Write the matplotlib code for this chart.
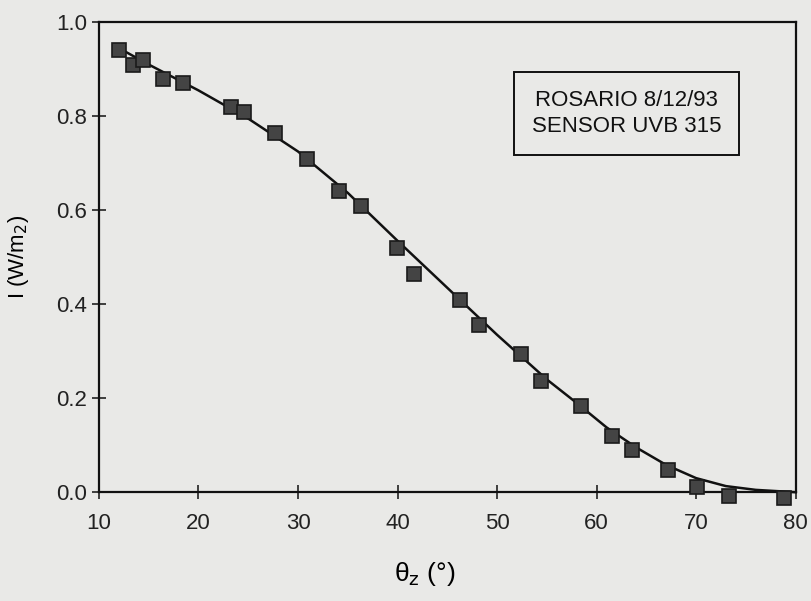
import matplotlib
matplotlib.use("Agg")
import matplotlib.pyplot as plt

# measured points (zenith angle in degrees, irradiance W/m2)
theta = [12.0, 13.4, 14.4, 16.4, 18.4, 23.3, 24.6, 27.7, 30.9, 34.1, 36.3, 39.9,
         41.7, 46.3, 48.2, 52.4, 54.4, 58.4, 61.6, 63.6, 67.2, 70.1, 73.3, 78.8]
irr = [0.94, 0.91, 0.92, 0.88, 0.87, 0.82, 0.81, 0.765, 0.71, 0.64, 0.61, 0.52,
       0.465, 0.41, 0.356, 0.294, 0.236, 0.184, 0.12, 0.089, 0.048, 0.011, -0.008, -0.012]

# fitted curve
fit_theta = [12, 15, 20, 25, 30, 35, 40, 45, 50, 55, 58, 61, 64, 67, 70, 73, 76, 80]
fit_irr = [0.945, 0.91, 0.855, 0.795, 0.725, 0.637, 0.535, 0.435, 0.335, 0.24,
           0.19, 0.138, 0.095, 0.058, 0.03, 0.013, 0.005, 0.0]

xticks = [10, 20, 30, 40, 50, 60, 70, 80]
yticks = [0.0, 0.2, 0.4, 0.6, 0.8, 1.0]

plt.rcParams['font.family'] = ['Liberation Sans', 'DejaVu Sans']
bg = '#e9e9e7'

fig = plt.figure(figsize=(8.11, 6.01), dpi=100, facecolor=bg)
ax = fig.add_axes([0.122, 0.181, 0.859, 0.782], facecolor=bg)

ax.plot(fit_theta, fit_irr, color='#111111', lw=1.8, zorder=2, clip_on=False)
ax.plot(theta, irr, ls='none', marker='s', ms=10, mfc='#444444', mec='#1a1a1a',
        mew=1.2, zorder=3, clip_on=False)

ax.set_xlim(10, 80)
ax.set_ylim(0, 1.0)
ax.set_xticks(xticks)
ax.set_yticks(yticks)
ax.set_yticklabels([f"{v:.1f}" for v in yticks])
ax.tick_params(direction='inout', length=10, width=1.2, labelsize=16, colors='#222222')
ax.tick_params(axis='x', pad=10)
for s in ax.spines.values():
    s.set_linewidth(1.6)
    s.set_color('#111111')

ax.set_xlabel('θ$_\\mathrm{z}$ (°)', fontsize=19)
ax.xaxis.set_label_coords(0.468, -0.145)
ax.set_ylabel(r'I (W/m$_2$)', fontsize=16, labelpad=18)

ax.text(0.757, 0.806, "ROSARIO 8/12/93\nSENSOR UVB 315", transform=ax.transAxes,
        ha='center', va='center', fontsize=16, linespacing=1.3, color='#111111',
        bbox=dict(boxstyle='square,pad=0.8', fc=bg, ec='#111111', lw=1.4))

fig.savefig("out.png", dpi=100, facecolor=bg)
